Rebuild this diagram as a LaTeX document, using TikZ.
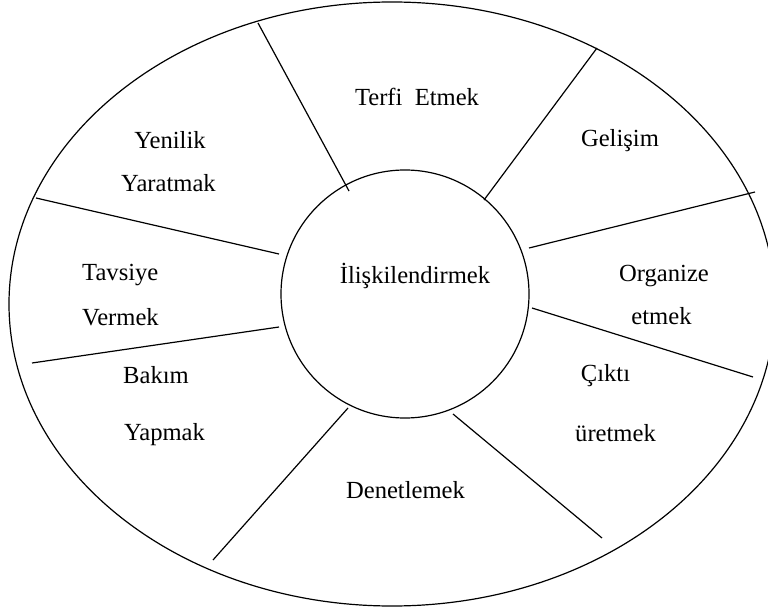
\documentclass[tikz,border=0pt]{standalone}
\usepackage{fontspec}
\setmainfont{Liberation Serif}
\begin{document}
\begin{tikzpicture}[x=1bp,y=-1bp,
  shape line/.style={line width=1.2bp, black},
  lbl/.style={anchor=base, inner sep=0pt, font=\fontsize{24.6bp}{29bp}\selectfont}]
\useasboundingbox (0,0) rectangle (768,612);
\begin{scope}
\clip (0,0) rectangle (768,612);
\draw[shape line] (392,304) ellipse [x radius=383, y radius=302];
\end{scope}
\node[shape line, draw, circle, minimum size=248bp, inner sep=0pt] (hub) at (405,294) {};
% spoke end points
\coordinate (a1) at (349,191); \coordinate (b1) at (258,23);
\coordinate (a2) at (484,200); \coordinate (b2) at (597,48);
\coordinate (a3) at (529,248); \coordinate (b3) at (755,192);
\coordinate (a4) at (532,308); \coordinate (b4) at (753,377);
\coordinate (a5) at (453,414); \coordinate (b5) at (602,538);
\coordinate (a6) at (348,408); \coordinate (b6) at (213,560);
\coordinate (a7) at (279,327); \coordinate (b7) at (32,363);
\coordinate (a8) at (279,254); \coordinate (b8) at (36,198);
\foreach \i in {1,...,8} \draw[shape line] (a\i) -- (b\i);
% labels
\node[lbl] (center) at (415,283) {İlişkilendirmek};
\node[lbl] (terfi) at (417,106) {Terfi\ \ Etmek};
\node[lbl] (gelisim) at (620,147) {Gelişim};
\node[lbl] (yen1) at (170,149) {Yenilik};
\node[lbl] (yen2) at (168.5,192) {Yaratmak};
\node[lbl, anchor=base west] (tav1) at (82,280) {Tavsiye};
\node[lbl, anchor=base west] (tav2) at (82,325) {Vermek};
\node[lbl] (bak1) at (156,383) {Bakım};
\node[lbl] (bak2) at (164.5,440) {Yapmak};
\node[lbl] (org1) at (664,281) {Organize};
\node[lbl] (org2) at (661.5,324) {etmek};
\node[lbl] (cik1) at (605.5,381) {Çıktı};
\node[lbl, anchor=base west] (cik2) at (575,441) {üretmek};
\node[lbl] (den) at (405.5,498) {Denetlemek};
\end{tikzpicture}
\end{document}
